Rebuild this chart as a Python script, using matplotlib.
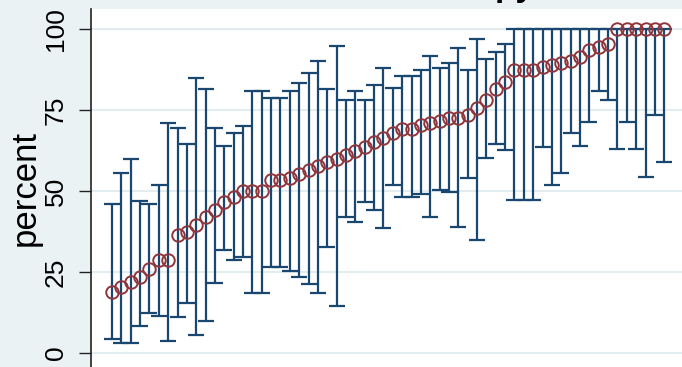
import matplotlib
matplotlib.use("Agg")
import matplotlib.pyplot as plt
import numpy as np

plt.rcParams['font.family'] = ['Liberation Sans', 'DejaVu Sans']

# ---- data ----
means = [18.8, 20.4, 22.0, 23.5, 26.0, 28.6, 28.6, 36.4, 37.4, 39.5,
         42.0, 44.0, 46.6, 48.0, 50.0, 50.0, 50.0, 53.4, 53.4, 54.0,
         55.2, 56.5, 57.7, 59.0, 59.8, 61.0, 62.3, 63.5, 65.0, 66.5,
         67.9, 69.0, 69.0, 70.4, 71.0, 71.6, 72.4, 72.6, 73.5, 75.5,
         78.0, 81.4, 83.5, 87.5, 87.5, 87.5, 88.2, 88.9, 89.5, 90.0,
         91.5, 93.5, 94.5, 95.5, 100, 100, 100, 100, 100, 100]
upper = [46, 55.6, 60, 47, 46, 52, 71, 69.4, 64.5, 85,
         81.5, 69.4, 64, 68, 70, 81, 81, 78.8, 78.8, 80.9,
         83.3, 86.4, 90, 81.5, 94.8, 78, 81, 78, 82.7, 88,
         81.9, 85.6, 85.6, 87.3, 91.7, 88, 89.4, 94, 87.5, 96.8,
         90.6, 93, 95.3, 100, 100, 100, 100, 100, 100, 100,
         100, 100, 100, 100, 100, 100, 100, 100, 100, 100]
lower = [4.3, 3.1, 3.0, 8.3, 12.3, 11.4, 3.7, 11.0, 15.4, 5.6,
         10.0, 21.6, 31.8, 28.7, 29.6, 18.6, 18.6, 26.6, 26.6, 25.4,
         23.6, 21.3, 18.5, 32.8, 14.6, 42.0, 40.5, 46.7, 44.0, 38.5,
         52.0, 48.3, 48.3, 49.0, 42.0, 50.3, 49.8, 39.0, 54.0, 34.9,
         60.3, 64.4, 62.7, 47.2, 47.2, 47.2, 63.7, 51.9, 55.5, 68.0,
         63.9, 71.2, 80.9, 78.0, 63.1, 71.4, 63.1, 54.2, 73.5, 59.0]
yticks = [0, 25, 50, 75, 100]
ylabel = "percent"
title = "Therapy"

# ---- styling ----
BG = '#EAF2F3'
NAVY = '#1A476F'
MAROON = '#90353B'
W, H = 682, 367

fig = plt.figure(figsize=(W / 100, H / 100), dpi=100)
fig.patch.set_facecolor(BG)

left_px, top_px = 91, 9
ax = fig.add_axes([left_px / W, 0, 1 - left_px / W, (H - top_px) / H])
ax.set_facecolor('white')

x = np.arange(1, len(means) + 1)
m = np.array(means)
lo = np.array(lower)
hi = np.array(upper)

ax.errorbar(x, m, yerr=[m - lo, hi - m], fmt='none', ecolor=NAVY,
            elinewidth=1.6, capsize=5.6, capthick=1.6, zorder=2)
ax.plot(x, m, 'o', ms=9.0, mfc='none', mec=MAROON, mew=1.4, zorder=3)

# pixel mapping: y=0 at 353px, y=100 at 29px; x=1 at 112px, spacing 9.36px
ppu = (353 - 29) / 100
ax.set_ylim((353 - H) / ppu, (353 - top_px) / ppu)
sp = 9.36
ax.set_xlim(1 - (112 - left_px) / sp, 1 + (W - 112) / sp)

ax.set_yticks(yticks)
ax.set_xticks([])
ax.tick_params(axis='y', length=8.6, width=1.0, color='#222222',
               labelsize=19, labelrotation=90, pad=8, labelcolor='black')
for lab in ax.get_yticklabels():
    lab.set_va('center')
ax.yaxis.grid(True, color='#E3EDEF', lw=1.5)
ax.set_axisbelow(True)

for s in ['top', 'right', 'bottom']:
    ax.spines[s].set_visible(False)
ax.spines['left'].set_color('#222222')
ax.spines['left'].set_linewidth(1.2)

ax.set_ylabel(ylabel, fontsize=25)
ax.yaxis.set_label_coords(42 / W, 1 - 188 / H, transform=fig.transFigure)

fig.text(535 / W, 1 + 3.5 / H, title, ha='right', va='baseline',
         fontsize=24, fontweight='bold', color='black')

fig.savefig('out.png', dpi=100, facecolor=fig.get_facecolor())
